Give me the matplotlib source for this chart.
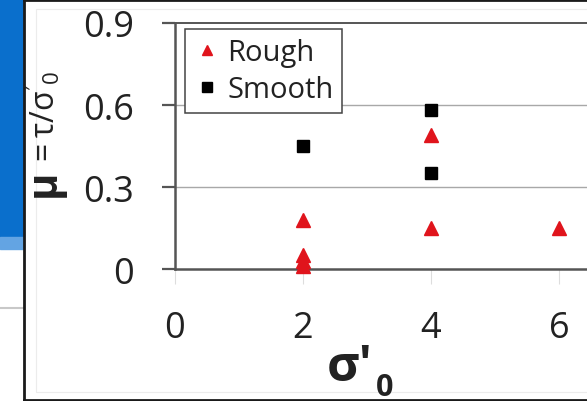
import matplotlib
matplotlib.use("Agg")
import matplotlib.pyplot as plt
from matplotlib.patches import Rectangle
from matplotlib.lines import Line2D

# data
rough_x = [2, 2, 2, 2, 4, 4, 6]
rough_y = [0.18, 0.05, 0.03, 0.01, 0.49, 0.15, 0.15]
smooth_x = [2, 4, 4]
smooth_y = [0.45, 0.58, 0.35]
x_ticks = [0, 2, 4, 6]
y_ticks = [0, 0.3, 0.6, 0.9]
y_tick_labels = ["0", "0.3", "0.6", "0.9"]

W, H = 587, 402
PT = 0.72  # points per pixel at dpi 100
plt.rcParams["font.family"] = ["Open Sans", "DejaVu Sans"]
plt.rcParams["mathtext.default"] = "regular"

fig = plt.figure(figsize=(W / 100, H / 100), dpi=100)


def px(x, y):
    # pixel (from top-left) -> figure fraction
    return x / W, 1 - y / H


# screenshot surroundings
fig.patches.append(Rectangle(px(0, 238), 23 / W, 238 / H, transform=fig.transFigure,
                             color="#0a6fcc", zorder=0))
fig.patches.append(Rectangle(px(0, 250), 23 / W, 12 / H, transform=fig.transFigure,
                             color="#63a4e3", zorder=0))
fig.lines.append(Line2D([0, 23 / W], [1 - 309 / H] * 2, transform=fig.transFigure,
                        color="#c8c8c8", lw=1.5))
# chart frame
fig.lines.append(Line2D([24 / W, 24 / W], [0, 1], transform=fig.transFigure, color="#1a1a1a", lw=2))
fig.lines.append(Line2D([24 / W, 1], [1 - 1 / H] * 2, transform=fig.transFigure, color="#1a1a1a", lw=2))
fig.lines.append(Line2D([24 / W, 1], [1 / H] * 2, transform=fig.transFigure, color="#1a1a1a", lw=2))
fig.patches.append(Rectangle(px(36, 393), 1, 383 / H, transform=fig.transFigure,
                             fill=False, ec="#ececec", lw=0.8))

# plot area: x 0 at 175px, 64 px per unit; y 0 at 270px, 0.9 at 24px
ax = fig.add_axes([175 / W, 1 - 270 / H, 512 / W, 246 / H])
ax.set_xlim(0, 8)
ax.set_ylim(0, 0.9)

for y in [0.3, 0.6]:
    ax.axhline(y, color="#a8a8a8", lw=1.0, zorder=1)

ax.plot(rough_x, rough_y, "^", color="#e0141c", ms=10, mec="#e0141c",
        clip_on=False, zorder=3, label="Rough")
ax.plot(smooth_x, smooth_y, "s", color="black", ms=9, clip_on=False, zorder=3, label="Smooth")

for s in ["left", "bottom", "top"]:
    ax.spines[s].set_color("#555555")
    ax.spines[s].set_linewidth(1.8)
ax.spines["top"].set_linewidth(1.4)
ax.spines["right"].set_visible(False)

ax.set_yticks(y_ticks)
ax.set_yticklabels(y_tick_labels)
ax.set_xticks(x_ticks)
ax.tick_params(axis="y", direction="out", length=13 * PT, width=1.6, color="#555555",
               labelsize=26, pad=28 * PT, labelcolor="#222222")
ax.tick_params(axis="x", direction="out", length=15 * PT, width=0.8, color="#dddddd",
               labelsize=26, pad=26 * PT, labelcolor="#222222")

leg = ax.legend(loc="upper left", bbox_to_anchor=(185 / W, 1 - 30 / H),
                bbox_transform=fig.transFigure, borderaxespad=0, fancybox=False,
                fontsize=21, handletextpad=0.25, handlelength=0.9, markerscale=0.75,
                borderpad=0.3, labelspacing=0.3, framealpha=1)
leg.get_frame().set_edgecolor("#444444")
leg.get_frame().set_linewidth(1.1)
for t in leg.get_texts():
    t.set_color("#222222")

# axis titles
fig.text(*px(44, 170), "μ", rotation=90, ha="center", va="top",
         fontsize=30, fontweight="bold", color="#222222")
fig.text(*px(43, 168), r"$=\tau/\sigma'_0$", rotation=90, ha="center", va="bottom",
         fontsize=23, color="#222222")
fig.text(*px(350, 368), "σ'", ha="center", va="center", fontsize=36,
         fontweight="bold", color="#222222")
fig.text(*px(385, 388), "0", ha="center", va="center", fontsize=22,
         fontweight="bold", color="#222222")

fig.savefig("out.png", dpi=100)
